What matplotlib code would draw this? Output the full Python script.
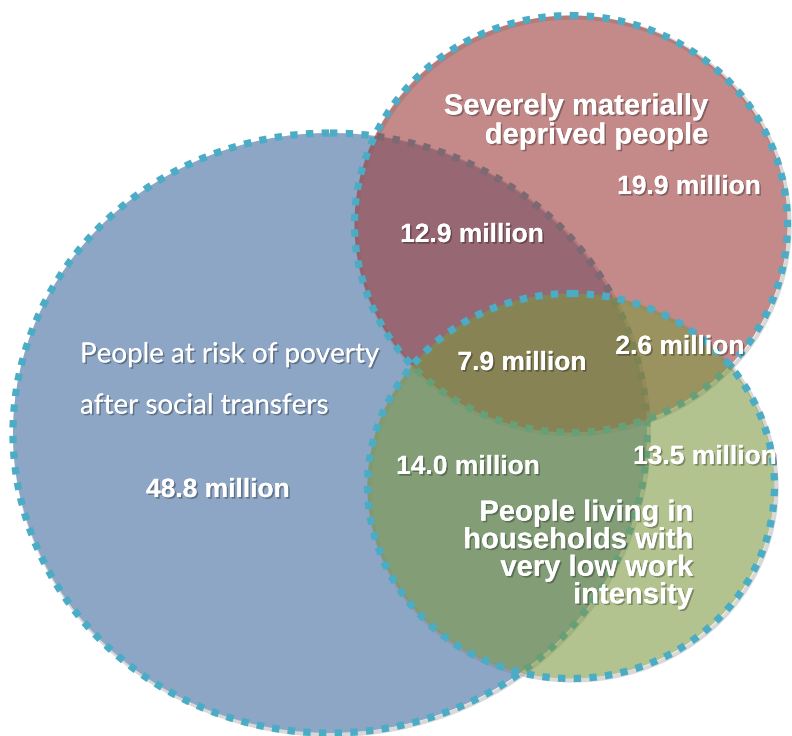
import matplotlib.pyplot as plt
from matplotlib.patches import Ellipse
import matplotlib.patheffects as pe

plt.rcParams['lines.scale_dashes'] = False

# set names and region sizes (million people)
set_names = ["People at risk of poverty\nafter social transfers",
             "Severely materially\ndeprived people",
             "People living in\nhouseholds with\nvery low work\nintensity"]
region_keys = ["100", "010", "001", "110", "101", "011", "111"]
region_values = [48.8, 19.9, 13.5, 12.9, 14.0, 2.6, 7.9]

# layout (pixel coords of the 792x736 canvas)
circles = [((330, 433), 634, 600), ((571, 224), 433, 417), ((571, 486), 407, 385)]
fills = [(0.553, 0.651, 0.773, 1.0), (0.62, 0.24, 0.24, 0.6), (0.49, 0.60, 0.25, 0.58)]
edge = "#4BACC6"
value_pos = {"100": (218, 490), "010": (689, 187), "001": (705, 457), "110": (472, 235),
             "101": (468, 467), "011": (680, 347), "111": (522, 363)}

fig = plt.figure(figsize=(7.92, 7.36), dpi=100)
ax = fig.add_axes([0, 0, 1, 1])
ax.set_xlim(0, 792)
ax.set_ylim(736, 0)
ax.axis('off')

for (c, w, h), fc in zip(circles, fills):
    # soft shadow
    ax.add_patch(Ellipse((c[0] + 2, c[1] + 2), w, h, fill=False, ec='0.5', lw=3, alpha=0.3))
    ax.add_patch(Ellipse(c, w, h, fc=fc, ec=edge, lw=5.2, linestyle=(0, (5.3, 6))))

shadow = [pe.withSimplePatchShadow(offset=(1.2, -1.2), shadow_rgbFace='black', alpha=0.3), pe.Normal()]

for k, v in zip(region_keys, region_values):
    x, y = value_pos[k]
    ax.text(x, y, f"{v:.1f} million", ha='center', va='center', color='white',
            fontsize=19, fontweight='bold', family='Liberation Sans', path_effects=shadow)

ax.text(80, 380, set_names[0], ha='left', va='center', color='white', fontsize=20,
        family='Lato', linespacing=2.2, path_effects=shadow)
ax.text(708, 121, set_names[1], ha='right', va='center', multialignment='right', color='white',
        fontsize=21, fontweight='bold', family='Liberation Sans', linespacing=1.05, path_effects=shadow)
ax.text(693, 554, set_names[2], ha='right', va='center', multialignment='right', color='white',
        fontsize=21, fontweight='bold', family='Liberation Sans', linespacing=0.98, path_effects=shadow)

fig.savefig("out.png", dpi=100)
